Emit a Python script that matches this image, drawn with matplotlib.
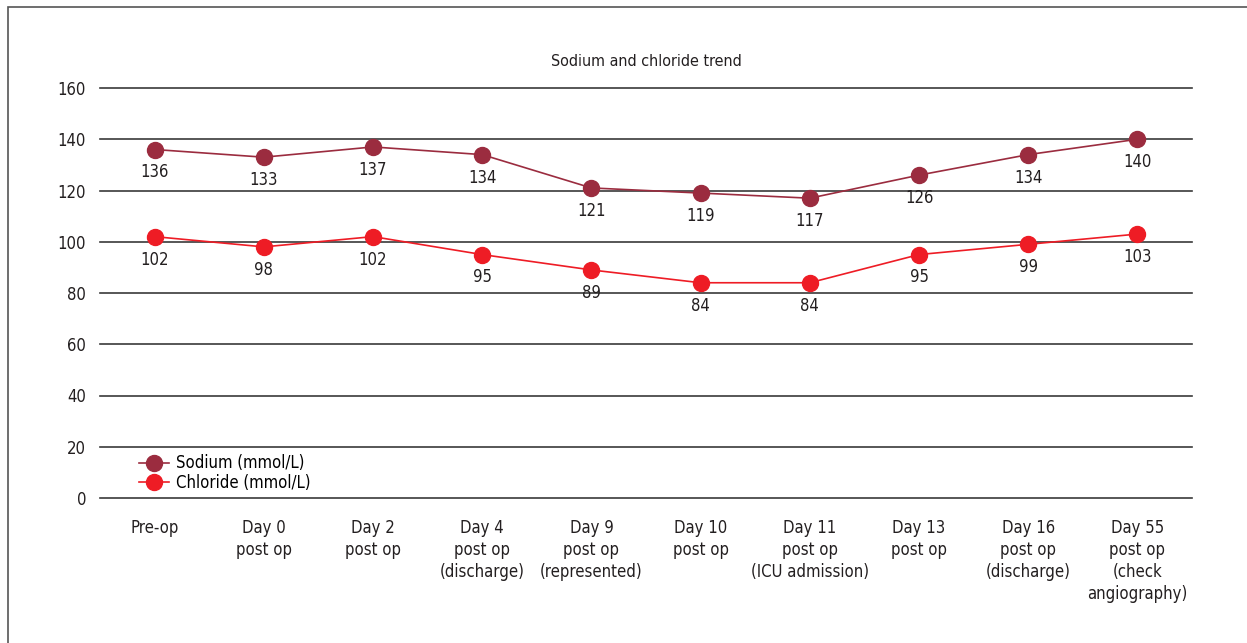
import matplotlib
matplotlib.use('Agg')
import matplotlib.pyplot as plt
from matplotlib.patches import Rectangle

plt.rcParams['font.family'] = ['DejaVu Sans']
plt.rcParams['font.stretch'] = 'condensed'

categories = ['Pre-op', 'Day 0\npost op', 'Day 2\npost op', 'Day 4\npost op\n(discharge)',
              'Day 9\npost op\n(represented)', 'Day 10\npost op', 'Day 11\npost op\n(ICU admission)',
              'Day 13\npost op', 'Day 16\npost op\n(discharge)', 'Day 55\npost op\n(check\nangiography)']
sodium = [136, 133, 137, 134, 121, 119, 117, 126, 134, 140]
chloride = [102, 98, 102, 95, 89, 84, 84, 95, 99, 103]
yticks = [0, 20, 40, 60, 80, 100, 120, 140, 160]

na_color = '#9b2c3f'
cl_color = '#ee1c25'
txt = '#231f20'

fig = plt.figure(figsize=(12.47, 6.43), dpi=100)
fig.patches.append(Rectangle((8/1247, -0.1), 1.2, 1.1 - 7/643, transform=fig.transFigure,
                             fill=False, edgecolor='#555555', linewidth=1.2))
ax = fig.add_axes([100/1247, 1 - 498/643, 1092/1247, 410/643])

x = list(range(len(categories)))
ax.plot(x, sodium, color=na_color, linewidth=1.2, marker='o', markersize=11.5, label='Sodium (mmol/L)', zorder=3)
ax.plot(x, chloride, color=cl_color, linewidth=1.2, marker='o', markersize=11.5, label='Chloride (mmol/L)', zorder=3)

for xi, v in zip(x, sodium):
    ax.annotate(str(v), (xi, v), xytext=(0, -10), textcoords='offset points', ha='center', va='top',
                fontsize=12, color=txt)
for xi, v in zip(x, chloride):
    ax.annotate(str(v), (xi, v), xytext=(0, -10), textcoords='offset points', ha='center', va='top',
                fontsize=12, color=txt)

ax.set_xlim(-0.5, len(categories) - 0.5)
ax.set_ylim(0, 160)
ax.set_yticks(yticks)
ax.set_xticks(x)
ax.set_xticklabels(categories, fontsize=12, color=txt, linespacing=1.3)
ax.tick_params(axis='y', labelsize=12, labelcolor=txt, length=0, pad=10)
ax.tick_params(axis='x', length=0, pad=15)
ax.grid(axis='y', color='#3a3a3a', linewidth=1.2)
for gl in ax.get_ygridlines():
    gl.set_clip_on(False)
ax.set_axisbelow(True)
for s in ax.spines.values():
    s.set_visible(False)

ax.set_title('Sodium and chloride trend', fontsize=11.5, color=txt, pad=16)
ax.legend(loc='lower left', bbox_to_anchor=(0.025, -0.014), frameon=False, fontsize=12,
          handlelength=1.8, handletextpad=0.4, labelspacing=0.1, borderaxespad=0.3)

fig.savefig('out.png', dpi=100)
